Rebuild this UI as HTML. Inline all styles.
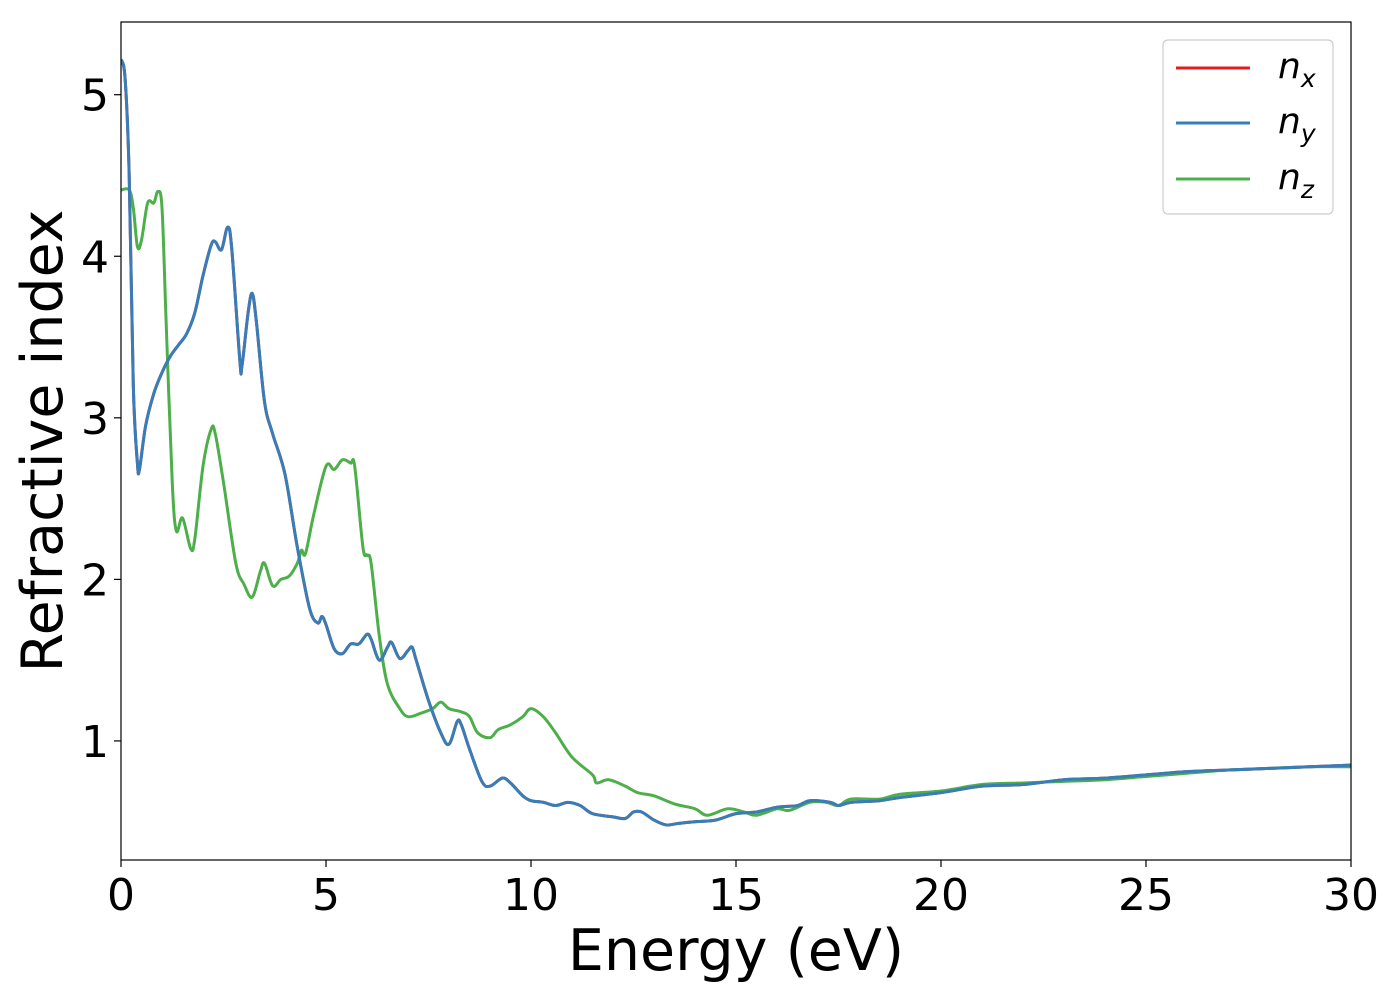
<!DOCTYPE html>
<html><head><meta charset="utf-8"><style>
body{margin:0;background:#fff;font-family:"Liberation Sans","DejaVu Sans",sans-serif;}
svg text{font-family:"DejaVu Sans","Liberation Sans",sans-serif;}
</style></head><body>
<svg id="chart" width="1400" height="1000" xmlns="http://www.w3.org/2000/svg"></svg>
<script>
const xTicks=[0,5,10,15,20,25,30];
const yTicks=[1,2,3,4,5];
const blueE=[0,0.1,0.2,0.3,0.4,0.45,0.6,0.8,1.0,1.2,1.4,1.6,1.8,2.0,2.2,2.3,2.45,2.6,2.7,2.9,2.95,3.1,3.2,3.3,3.5,3.7,4.0,4.3,4.6,4.8,4.9,5.0,5.2,5.4,5.6,5.8,6.0,6.1,6.3,6.5,6.6,6.8,7.0,7.1,7.2,7.5,7.8,8.0,8.2,8.3,8.5,8.8,9.0,9.3,9.5,9.8,10,10.3,10.6,10.9,11.2,11.5,12,12.3,12.5,12.7,13,13.3,13.6,14,14.5,15,15.5,16,16.5,16.8,17.3,17.5,17.8,18.5,19,20,21,22,23,24,25,26,27,28,29,30];
const blueN=[5.22,5.1,4.5,3.2,2.72,2.68,2.95,3.15,3.28,3.38,3.45,3.52,3.65,3.88,4.07,4.09,4.04,4.18,4.05,3.35,3.32,3.65,3.77,3.6,3.1,2.9,2.65,2.2,1.82,1.73,1.77,1.72,1.57,1.54,1.6,1.6,1.66,1.63,1.5,1.58,1.61,1.51,1.56,1.58,1.5,1.25,1.05,0.98,1.12,1.1,0.95,0.75,0.72,0.77,0.74,0.66,0.63,0.62,0.6,0.62,0.6,0.55,0.53,0.52,0.56,0.56,0.51,0.48,0.49,0.5,0.51,0.55,0.56,0.59,0.6,0.63,0.62,0.6,0.62,0.63,0.65,0.68,0.72,0.73,0.76,0.77,0.79,0.81,0.82,0.83,0.84,0.85];
const greenE=[0,0.2,0.3,0.4,0.5,0.65,0.8,0.9,1.0,1.1,1.25,1.35,1.5,1.7,1.8,2.0,2.2,2.3,2.5,2.8,3.0,3.2,3.4,3.5,3.7,3.9,4.1,4.3,4.4,4.5,4.7,5.0,5.2,5.4,5.6,5.7,5.9,6.0,6.1,6.3,6.5,6.8,7.0,7.3,7.6,7.8,8.0,8.3,8.5,8.7,9.0,9.2,9.5,9.8,10.0,10.3,10.6,11.0,11.5,11.6,11.9,12.3,12.6,13,13.5,14,14.3,14.8,15.2,15.5,16,16.3,16.8,17.2,17.5,17.8,18.5,19,20,21,22,23,24,25,26,27,28,29,30];
const greenN=[4.41,4.41,4.3,4.06,4.1,4.33,4.33,4.4,4.3,3.6,2.6,2.3,2.38,2.19,2.25,2.7,2.93,2.9,2.6,2.1,1.97,1.89,2.05,2.1,1.96,2.0,2.02,2.1,2.18,2.16,2.4,2.7,2.68,2.74,2.72,2.7,2.2,2.15,2.1,1.65,1.35,1.2,1.15,1.17,1.2,1.24,1.2,1.18,1.15,1.05,1.02,1.07,1.1,1.15,1.2,1.15,1.05,0.9,0.79,0.74,0.76,0.72,0.68,0.66,0.61,0.58,0.54,0.58,0.56,0.54,0.58,0.57,0.62,0.62,0.6,0.64,0.64,0.67,0.69,0.73,0.74,0.75,0.76,0.78,0.8,0.82,0.83,0.84,0.84];
const redE=blueE.slice();
const redN=blueN.slice();

const X0=121,X1=1351,Y0=860,Y1=22;
const xmin=0,xmax=30,ymin=0.263,ymax=5.45;
const sx=v=>X0+(v-xmin)/(xmax-xmin)*(X1-X0);
const sy=v=>Y0-(v-ymin)/(ymax-ymin)*(Y0-Y1);
const NS="http://www.w3.org/2000/svg";
const svg=document.getElementById('chart');
function mk(tag,attrs,parent){const e=document.createElementNS(NS,tag);for(const k in attrs)e.setAttribute(k,attrs[k]);(parent||svg).appendChild(e);return e;}
function pathFrom(E,N){
  const p=E.map((e,i)=>[sx(e),sy(N[i])]);
  let d=`M${p[0][0]},${p[0][1]}`;
  for(let i=0;i<p.length-1;i++){
    const a=p[i-1]||p[i],b=p[i],c=p[i+1],dd=p[i+2]||c;
    const c1=[b[0]+(c[0]-a[0])/6,b[1]+(c[1]-a[1])/6];
    const c2=[c[0]-(dd[0]-b[0])/6,c[1]-(dd[1]-b[1])/6];
    d+=`C${c1[0]},${c1[1]} ${c2[0]},${c2[1]} ${c[0]},${c[1]}`;
  }
  return d;
}
const defs=mk('defs',{});
const cp=mk('clipPath',{id:'clip'},defs);
mk('rect',{x:X0,y:Y1,width:X1-X0,height:Y0-Y1},cp);
const g=mk('g',{'clip-path':'url(#clip)'});
const sr=mk('path',{d:pathFrom(redE,redN),fill:'none',stroke:'#e41a1c','stroke-width':3},g);


const sg=mk('path',{d:pathFrom(greenE,greenN),fill:'none',stroke:'#4daf4a','stroke-width':3},g);


const sb=mk('path',{d:pathFrom(blueE,blueN),fill:'none',stroke:'#377eb8','stroke-width':3},g);



const frame=mk('rect',{x:X0,y:Y1,width:X1-X0,height:Y0-Y1,fill:'none',stroke:'#000','stroke-width':1.2});


xTicks.forEach(t=>{
  mk('line',{x1:sx(t),x2:sx(t),y1:Y0,y2:Y0+7,stroke:'#000','stroke-width':1.2});
  const tx=mk('text',{x:sx(t),y:Y0+50,'font-size':44,'text-anchor':'middle'});
  tx.textContent=t;
  
  
});
yTicks.forEach(t=>{
  mk('line',{x1:X0-7,x2:X0,y1:sy(t),y2:sy(t),stroke:'#000','stroke-width':1.2});
  const tx=mk('text',{x:X0-12,y:sy(t)+16,'font-size':44,'text-anchor':'end'});
  tx.textContent=t;
  
  
});
const xl=mk('text',{x:(X0+X1)/2,y:970,'font-size':57,'text-anchor':'middle'});
xl.textContent='Energy (eV)';


const yl=mk('text',{x:0,y:0,'font-size':57,'text-anchor':'middle',transform:`translate(62,${(Y0+Y1)/2}) rotate(-90)`});
yl.textContent='Refractive index';



const leg=mk('g',{});


mk('rect',{x:1163,y:40,width:170,height:174,rx:5,fill:'#fff',stroke:'#ccc','stroke-width':1.2},leg);
const items=[['#e41a1c','x',68],['#377eb8','y',123],['#4daf4a','z',179]];
items.forEach(([c,s,y])=>{
  const le=mk('g',{},leg);
  
  
  mk('line',{x1:1176,x2:1250,y1:y,y2:y,stroke:c,'stroke-width':3},le);
  const t=mk('text',{x:1278,y:y+10,'font-size':36,'font-style':'italic'},le);
  t.textContent='n';
  const sub=mk('tspan',{dy:9,'font-size':25},t);
  sub.textContent=s;
});
</script>
</body></html>
